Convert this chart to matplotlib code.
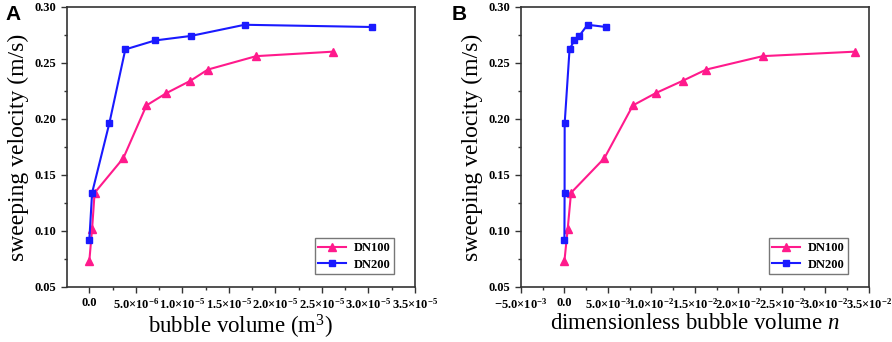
import numpy as np
import matplotlib.pyplot as plt
from matplotlib.ticker import MultipleLocator, FixedLocator, FixedFormatter

plt.rcParams['font.family'] = ['Liberation Serif', 'DejaVu Serif']
plt.rcParams['mathtext.fontset'] = 'custom'
plt.rcParams['mathtext.rm'] = 'Liberation Serif'
plt.rcParams['mathtext.it'] = 'Liberation Serif:italic'
plt.rcParams['mathtext.bf'] = 'Liberation Serif:bold'

# panel A: bubble volume (m^3)
vol_dn100 = [0.0, 3.0e-7, 5.7e-7, 3.66e-6, 6.14e-6, 8.29e-6, 1.087e-5, 1.274e-5, 1.794e-5, 2.62e-5]
vel_dn100 = [0.073, 0.102, 0.134, 0.165, 0.212, 0.223, 0.234, 0.244, 0.256, 0.260]
vol_dn200 = [0.0, 3.0e-7, 2.15e-6, 3.87e-6, 7.07e-6, 1.09e-5, 1.67e-5, 3.04e-5]
vel_dn200 = [0.092, 0.134, 0.196, 0.262, 0.270, 0.274, 0.284, 0.282]

# panel B: dimensionless bubble volume n
n_dn100 = [0.0, 3.8e-4, 7.6e-4, 4.6e-3, 7.87e-3, 1.05e-2, 1.36e-2, 1.63e-2, 2.28e-2, 3.34e-2]
n_dn200 = [0.0, 2e-5, 3e-5, 5.9e-4, 1.13e-3, 1.7e-3, 2.66e-3, 4.8e-3]

ticks_a = [0, 5e-6, 1e-5, 1.5e-5, 2e-5, 2.5e-5, 3e-5, 3.5e-5]
labels_a = ['0.0'] + [r'$\mathbf{%.1f{\times}10^{-%d}}$' % (m, e) for m, e in
                      [(5.0, 6), (1.0, 5), (1.5, 5), (2.0, 5), (2.5, 5), (3.0, 5), (3.5, 5)]]
ticks_b = [-5e-3, 0, 5e-3, 1e-2, 1.5e-2, 2e-2, 2.5e-2, 3e-2, 3.5e-2]
labels_b = [r'$\mathbf{-5.0{\times}10^{-3}}$', '0.0'] + \
    [r'$\mathbf{%.1f{\times}10^{-%d}}$' % (m, e) for m, e in
     [(5.0, 3), (1.0, 2), (1.5, 2), (2.0, 2), (2.5, 2), (3.0, 2), (3.5, 2)]]

pink = '#FF1A8C'
blue = '#1A1AFF'

fig = plt.figure(figsize=(8.92, 3.42), dpi=100)
axA = fig.add_axes([0.0751, 0.161, 0.390, 0.819])
axB = fig.add_axes([0.584, 0.161, 0.390, 0.819])


def style(ax, xs1, xs2, ticks, labels, xlim, minor, xlabel):
    ax.plot(xs1, vel_dn100, color=pink, marker='^', ms=6, lw=1.5, label='DN100')
    ax.plot(xs2, vel_dn200, color=blue, marker='s', ms=5, lw=1.5, label='DN200')
    ax.set_xlim(*xlim)
    ax.set_ylim(0.05, 0.30)
    ax.xaxis.set_major_locator(FixedLocator(ticks))
    ax.xaxis.set_major_formatter(FixedFormatter(labels))
    ax.xaxis.set_minor_locator(MultipleLocator(minor))
    ax.yaxis.set_major_locator(MultipleLocator(0.05))
    ax.yaxis.set_minor_locator(MultipleLocator(0.025))
    ax.yaxis.set_major_formatter(plt.FormatStrFormatter('%.2f'))
    ax.tick_params(which='both', direction='out', top=False, right=False,
                   labelsize=9, width=1.0, color='#333333')
    ax.tick_params(which='major', length=4)
    ax.tick_params(which='minor', length=2)
    for t in ax.get_yticklabels() + ax.get_xticklabels():
        t.set_fontweight('bold')
    for s in ax.spines.values():
        s.set_linewidth(1.2)
        s.set_color('#333333')
    ax.set_ylabel('sweeping velocity (m/s)', fontsize=17, labelpad=4)
    ax.set_xlabel(xlabel, fontsize=16.5, labelpad=1)
    leg = ax.legend(loc='lower right', bbox_to_anchor=(0.94, 0.045),
                    prop={'weight': 'bold', 'size': 9}, fancybox=False,
                    edgecolor='#555555', handlelength=2.2, borderpad=0.3,
                    labelspacing=0.35, handletextpad=0.6, borderaxespad=0.0)
    leg.get_frame().set_linewidth(1.0)


style(axA, vol_dn100, vol_dn200, ticks_a, labels_a, (-2.4e-6, 3.5e-5), 2.5e-6,
      r'bubble volume (m$^{3}$)')
style(axB, n_dn100, n_dn200, ticks_b, labels_b, (-5e-3, 3.5e-2), 2.5e-3,
      r'dimensionless bubble volume $n$')

fig.text(0.006, 0.985, 'A', fontsize=15, fontweight='bold', family='Liberation Sans', va='top')
fig.text(0.506, 0.985, 'B', fontsize=15, fontweight='bold', family='Liberation Sans', va='top')

fig.savefig('out.png', dpi=100)
